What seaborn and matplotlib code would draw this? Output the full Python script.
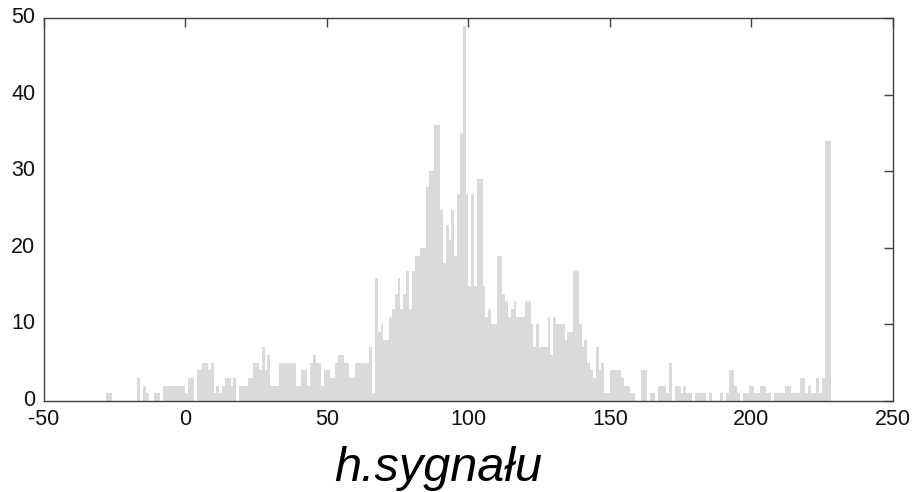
import numpy as np
import pandas as pd
import matplotlib
matplotlib.use("Agg")
import matplotlib.pyplot as plt
import matplotlib.transforms as mtransforms
import seaborn as sns

# histogram counts, one bin per unit, first bin starts at -28
bin_start = -28
counts_neg = [1, 1, 0, 0, 0, 0, 0, 0, 0, 0, 0, 3, 0, 2, 1, 0, 0, 1, 1, 0,
              2, 2, 2, 2, 2, 2, 2, 2]                                   # -28 .. -1
counts_0_29 = [1, 3, 3, 0, 4, 4, 5, 5, 4, 5, 1, 2, 1, 2, 3, 3, 2, 3, 0, 2,
               2, 2, 3, 3, 5, 5, 4, 7, 4, 6]                            # 0 .. 29
counts_30_64 = [2, 2, 2, 5, 5, 5, 5, 5, 5, 2, 2, 4, 4, 2, 5, 6, 5, 5, 2, 4,
                4, 3, 3, 5, 6, 6, 5, 5, 3, 3, 5, 5, 5, 5, 5]            # 30 .. 64
counts_65_104 = [7, 1, 16, 9, 10, 8, 8, 11, 12, 14, 16, 12, 14, 17, 12, 17, 19, 19, 20, 20,
                 28, 30, 30, 36, 36, 25, 18, 23, 21, 25, 19, 27, 35, 49, 27, 15, 27, 15, 29, 29]  # 65 .. 104
counts_105_149 = [15, 11, 12, 10, 10, 19, 19, 14, 13, 11, 12, 13, 11, 11, 11, 13, 13, 10, 7, 10,
                  7, 7, 7, 11, 6, 11, 10, 10, 10, 8, 9, 9, 17, 17, 10, 7, 8, 5, 4, 3,
                  7, 4, 5, 1, 1]                                         # 105 .. 149
counts_150_227 = [4, 4, 4, 4, 3, 2, 2, 1, 1, 0, 0, 4, 4, 0, 1, 1, 0, 2, 2, 2,
                  1, 5, 0, 2, 2, 1, 2, 1, 1, 0, 1, 1, 1, 1, 0, 1, 0, 0, 0, 1,
                  0, 1, 4, 4, 2, 1, 0, 1, 1, 2, 2, 1, 1, 2, 2, 1, 1, 0, 1, 1,
                  1, 1, 2, 2, 1, 1, 1, 3, 3, 1, 2, 1, 1, 3, 1, 3, 34, 34]  # 150 .. 227

x_ticks = [-50, 0, 50, 100, 150, 200, 250]
y_ticks = [0, 10, 20, 30, 40, 50]
x_label = "h.sygnału"

counts = counts_neg + counts_0_29 + counts_30_64 + counts_65_104 + counts_105_149 + counts_150_227
bin_end = bin_start + len(counts)
df = pd.DataFrame({
    "h": np.arange(bin_start, bin_end) + 0.5,
    "n": counts,
})

sns.set_style("white")
plt.rcParams['font.family'] = ['Liberation Sans', 'DejaVu Sans']
plt.rcParams['axes.unicode_minus'] = False

fig = plt.figure(figsize=(9.13, 4.92), dpi=100)
ax = fig.add_axes([0.048, 0.185, 0.93, 0.778])

sns.histplot(data=df, x="h", weights="n", binwidth=1, binrange=(bin_start, bin_end),
             color='#dadada', alpha=1, edgecolor='none', linewidth=0, ax=ax)

ax.set_xlim(-50, 250)
ax.set_ylim(0, 50)
ax.set_xticks(x_ticks)
ax.set_yticks(y_ticks)
ax.tick_params(direction='in', length=6.5, width=1, top=True, right=True,
               labelsize=15.5, color='#404040', labelcolor='#111111')
ax.tick_params(axis='x', pad=6)
ax.tick_params(axis='y', pad=6)
for s in ax.spines.values():
    s.set_color('#404040')
    s.set_linewidth(1)

# y labels sit a little above their ticks in the original
up = mtransforms.ScaledTranslation(0, 3 / 100, fig.dpi_scale_trans)
for lab in ax.get_yticklabels():
    lab.set_transform(lab.get_transform() + up)

ax.set_ylabel('')
ax.set_xlabel(x_label, fontsize=35, style='italic', color='black')
ax.xaxis.set_label_coords(0.464, -0.117)

fig.savefig('out.png', dpi=100)
